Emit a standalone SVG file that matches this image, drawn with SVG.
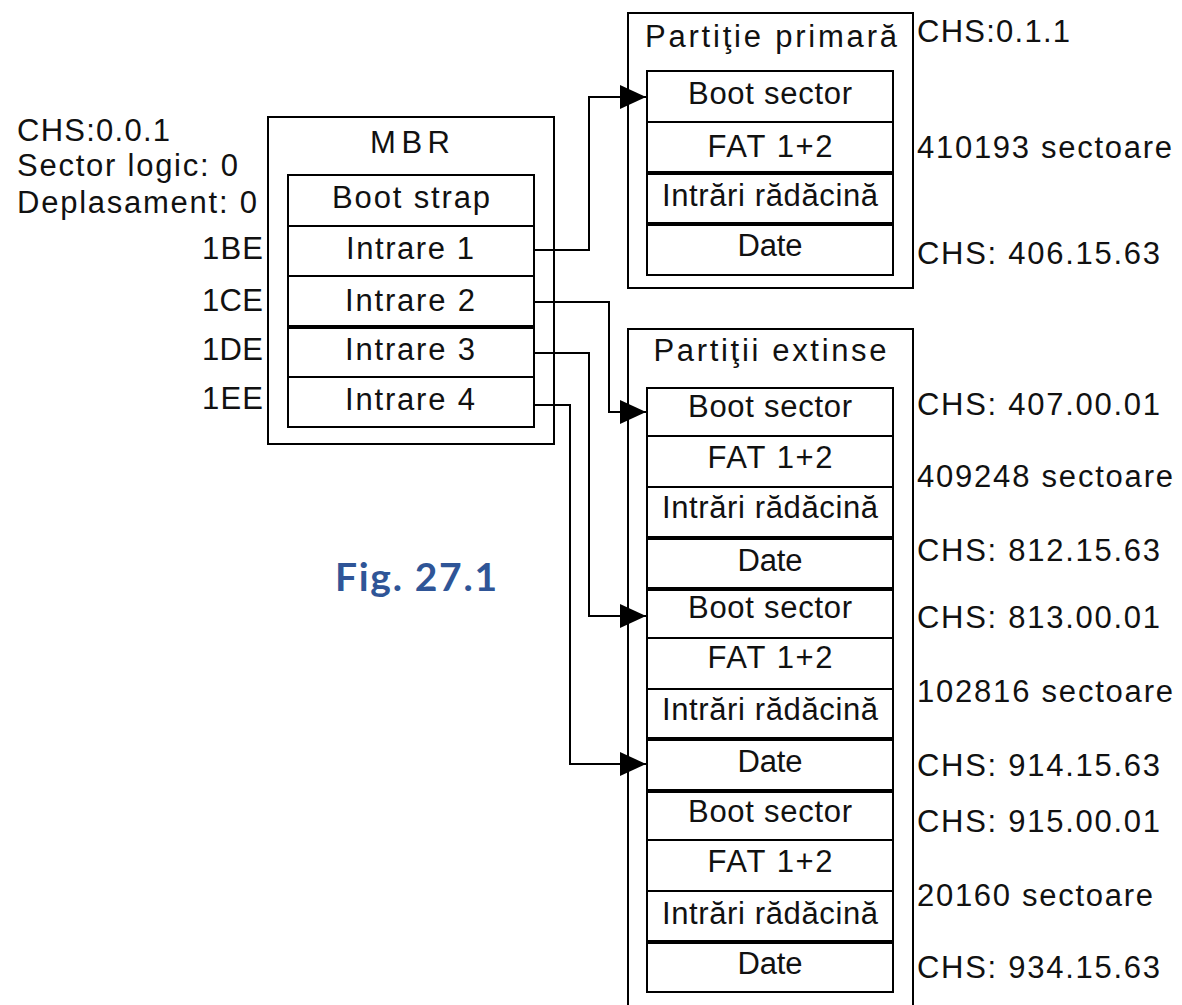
<svg xmlns="http://www.w3.org/2000/svg" width="1182" height="1005" viewBox="0 0 1182 1005">
  <style>
    .frame { fill: #fff; stroke: #000; stroke-width: 2; }
    .cell { fill: #fff; stroke: #000; stroke-width: 2; }
    .sep { stroke: #000; stroke-width: 4; }
    .wire { fill: none; stroke: #000; stroke-width: 2; }
    text { font-family: "Liberation Sans", Arial, sans-serif; font-size: 31px; fill: #111; }
    .c { text-anchor: middle; }
    .r { text-anchor: end; }
    .fig { font-family: Lato, "Open Sans", sans-serif; font-weight: bold; font-size: 39px; fill: #2f5597; }
  </style>
  <defs>
    <marker id="arrow" markerUnits="userSpaceOnUse" markerWidth="26" markerHeight="24" refX="26" refY="12" orient="auto">
      <path d="M0,0 L26,12 L0,24 Z" fill="#000"/>
    </marker>
  </defs>
  <rect width="1182" height="1005" fill="#fff"/>

  <!-- MBR and its four partition-table entries -->
  <g id="mbr">
    <rect class="frame" x="268" y="117" width="286" height="327"/>
    <text class="c" x="410" y="153" textLength="80" lengthAdjust="spacing">MBR</text>
    <rect class="cell" x="288" y="175" width="246" height="51"/>
    <rect class="cell" x="288" y="226" width="246" height="50"/>
    <rect class="cell" x="288" y="276" width="246" height="51"/>
    <rect class="cell" x="288" y="327" width="246" height="50"/>
    <rect class="cell" x="288" y="377" width="246" height="50"/>
    <line class="sep" x1="288" y1="327" x2="534" y2="327"/>
    <text class="c" x="411" y="208" textLength="158" lengthAdjust="spacing">Boot strap</text>
    <text class="c" x="410" y="259" textLength="128" lengthAdjust="spacing">Intrare 1</text>
    <text class="c" x="410" y="311" textLength="130" lengthAdjust="spacing">Intrare 2</text>
    <text class="c" x="410" y="360" textLength="130" lengthAdjust="spacing">Intrare 3</text>
    <text class="c" x="410" y="410" textLength="130" lengthAdjust="spacing">Intrare 4</text>
  </g>

  <!-- MBR location and entry offsets -->
  <g id="mbr-labels">
    <text x="17" y="141" textLength="153" lengthAdjust="spacing">CHS:0.0.1</text>
    <text x="17" y="176" textLength="221" lengthAdjust="spacing">Sector logic: 0</text>
    <text x="17" y="213" textLength="240" lengthAdjust="spacing">Deplasament: 0</text>
    <text class="r" x="263" y="259" textLength="61" lengthAdjust="spacing">1BE</text>
    <text class="r" x="263" y="311" textLength="61" lengthAdjust="spacing">1CE</text>
    <text class="r" x="263" y="360" textLength="61" lengthAdjust="spacing">1DE</text>
    <text class="r" x="263" y="409" textLength="61" lengthAdjust="spacing">1EE</text>
  </g>

  <!-- Primary partition -->
  <g id="primary">
    <rect class="frame" x="628" y="13" width="285" height="275"/>
    <text class="c" x="771" y="47" textLength="252" lengthAdjust="spacing">Partiţie primară</text>
    <rect class="cell" x="647" y="71" width="246" height="51"/>
    <rect class="cell" x="647" y="122" width="246" height="51"/>
    <rect class="cell" x="647" y="173" width="246" height="51"/>
    <rect class="cell" x="647" y="224" width="246" height="51"/>
    <line class="sep" x1="647" y1="173" x2="893" y2="173"/>
    <line class="sep" x1="647" y1="224" x2="893" y2="224"/>
    <text class="c" x="770" y="104" textLength="164" lengthAdjust="spacing">Boot sector</text>
    <text class="c" x="770" y="157" textLength="125" lengthAdjust="spacing">FAT 1+2</text>
    <text class="c" x="770" y="206" textLength="216" lengthAdjust="spacing">Intrări rădăcină</text>
    <text class="c" x="770" y="256" textLength="65" lengthAdjust="spacing">Date</text>
  </g>

  <!-- Extended partitions: three logical drives -->
  <g id="extended">
    <rect class="frame" x="628" y="329" width="285" height="700"/>
    <text class="c" x="770" y="361" textLength="233" lengthAdjust="spacing">Partiţii extinse</text>
    <rect class="cell" x="647" y="388" width="246" height="48"/>
    <rect class="cell" x="647" y="436" width="246" height="51"/>
    <rect class="cell" x="647" y="487" width="246" height="51"/>
    <rect class="cell" x="647" y="538" width="246" height="51"/>
    <rect class="cell" x="647" y="589" width="246" height="49"/>
    <rect class="cell" x="647" y="638" width="246" height="51"/>
    <rect class="cell" x="647" y="689" width="246" height="50"/>
    <rect class="cell" x="647" y="739" width="246" height="52"/>
    <rect class="cell" x="647" y="791" width="246" height="49"/>
    <rect class="cell" x="647" y="840" width="246" height="51"/>
    <rect class="cell" x="647" y="891" width="246" height="51"/>
    <rect class="cell" x="647" y="942" width="246" height="50"/>
    <line class="sep" x1="647" y1="538" x2="893" y2="538"/>
    <line class="sep" x1="647" y1="589" x2="893" y2="589"/>
    <line class="sep" x1="647" y1="739" x2="893" y2="739"/>
    <line class="sep" x1="647" y1="791" x2="893" y2="791"/>
    <line class="sep" x1="647" y1="942" x2="893" y2="942"/>
    <text class="c" x="770" y="417" textLength="164" lengthAdjust="spacing">Boot sector</text>
    <text class="c" x="770" y="468" textLength="125" lengthAdjust="spacing">FAT 1+2</text>
    <text class="c" x="770" y="518" textLength="216" lengthAdjust="spacing">Intrări rădăcină</text>
    <text class="c" x="770" y="571" textLength="65" lengthAdjust="spacing">Date</text>
    <text class="c" x="770" y="618" textLength="164" lengthAdjust="spacing">Boot sector</text>
    <text class="c" x="770" y="668" textLength="125" lengthAdjust="spacing">FAT 1+2</text>
    <text class="c" x="770" y="720" textLength="216" lengthAdjust="spacing">Intrări rădăcină</text>
    <text class="c" x="770" y="772" textLength="65" lengthAdjust="spacing">Date</text>
    <text class="c" x="770" y="822" textLength="164" lengthAdjust="spacing">Boot sector</text>
    <text class="c" x="770" y="872" textLength="125" lengthAdjust="spacing">FAT 1+2</text>
    <text class="c" x="770" y="924" textLength="216" lengthAdjust="spacing">Intrări rădăcină</text>
    <text class="c" x="770" y="974" textLength="65" lengthAdjust="spacing">Date</text>
  </g>

  <!-- CHS addresses and sizes -->
  <g id="chs-labels">
    <text x="917" y="42" textLength="153" lengthAdjust="spacing">CHS:0.1.1</text>
    <text x="917" y="158" textLength="255" lengthAdjust="spacing">410193 sectoare</text>
    <text x="917" y="264" textLength="243" lengthAdjust="spacing">CHS: 406.15.63</text>
    <text x="917" y="415" textLength="243" lengthAdjust="spacing">CHS: 407.00.01</text>
    <text x="917" y="487" textLength="256" lengthAdjust="spacing">409248 sectoare</text>
    <text x="917" y="561" textLength="243" lengthAdjust="spacing">CHS: 812.15.63</text>
    <text x="917" y="628" textLength="243" lengthAdjust="spacing">CHS: 813.00.01</text>
    <text x="917" y="702" textLength="256" lengthAdjust="spacing">102816 sectoare</text>
    <text x="917" y="776" textLength="243" lengthAdjust="spacing">CHS: 914.15.63</text>
    <text x="917" y="832" textLength="243" lengthAdjust="spacing">CHS: 915.00.01</text>
    <text x="917" y="906" textLength="236" lengthAdjust="spacing">20160 sectoare</text>
    <text x="917" y="978" textLength="243" lengthAdjust="spacing">CHS: 934.15.63</text>
  </g>

  <!-- Entry pointers -->
  <g id="connectors">
    <path class="wire" d="M534,250 H589 V97 H646" marker-end="url(#arrow)"/>
    <path class="wire" d="M534,302 H609 V412 H646" marker-end="url(#arrow)"/>
    <path class="wire" d="M534,353 H589 V616 H646" marker-end="url(#arrow)"/>
    <path class="wire" d="M534,405 H570 V764 H646" marker-end="url(#arrow)"/>
  </g>

  <text class="fig" x="335" y="591" textLength="162" lengthAdjust="spacing">Fig. 27.1</text>
</svg>
